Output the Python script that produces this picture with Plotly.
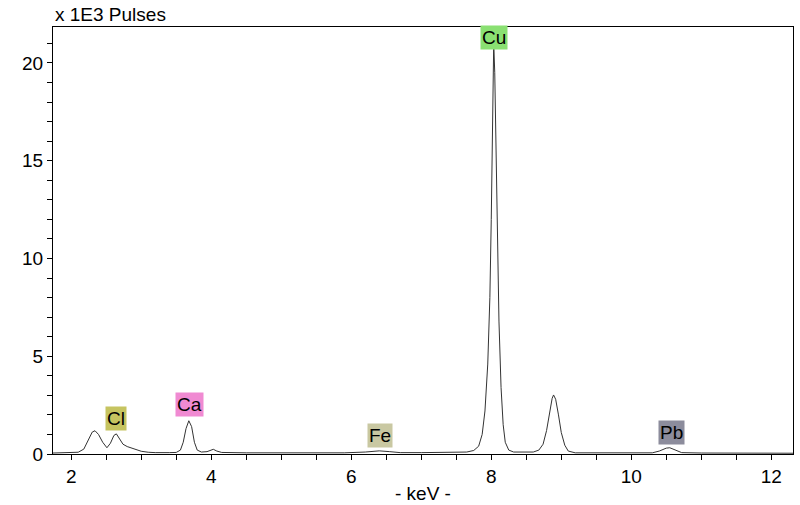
import plotly.graph_objects as go

# spectrum (keV, x1E3 pulses)
energy = [1.74, 1.90, 2.00, 2.10, 2.18, 2.24, 2.30, 2.34, 2.39, 2.45, 2.51, 2.56, 2.61, 2.645,
          2.69, 2.74, 2.80, 2.86, 2.93, 3.00, 3.10, 3.20, 3.40, 3.50, 3.56, 3.60, 3.64, 3.68,
          3.72, 3.76, 3.80, 3.86, 3.94, 4.00, 4.03, 4.08, 4.15, 4.50, 5.00, 5.50, 5.90, 6.20,
          6.40, 6.55, 6.70, 7.00, 7.40, 7.65, 7.75, 7.82, 7.87, 7.91, 7.95, 7.98, 8.00, 8.02,
          8.035, 8.05, 8.07, 8.09, 8.11, 8.14, 8.17, 8.20, 8.25, 8.32, 8.45, 8.60, 8.68, 8.74,
          8.79, 8.83, 8.87, 8.89, 8.92, 8.96, 9.00, 9.05, 9.10, 9.20, 9.60, 10.00, 10.30, 10.40,
          10.50, 10.55, 10.62, 10.72, 11.00, 11.50, 12.00, 12.31]
pulses = [0.05, 0.06, 0.07, 0.09, 0.25, 0.7, 1.12, 1.19, 1.0, 0.6, 0.32, 0.55, 0.95, 1.03,
          0.8, 0.5, 0.38, 0.3, 0.2, 0.14, 0.09, 0.07, 0.07, 0.08, 0.2, 0.6, 1.3, 1.70,
          1.4, 0.6, 0.2, 0.1, 0.12, 0.22, 0.24, 0.15, 0.08, 0.06, 0.06, 0.07, 0.06, 0.1,
          0.16, 0.12, 0.07, 0.07, 0.08, 0.1, 0.18, 0.4, 1.0, 2.2, 4.6, 8.0, 12.0, 17.5,
          21.0, 19.5, 15.0, 10.5, 6.8, 3.4, 1.5, 0.6, 0.2, 0.1, 0.09, 0.1, 0.2, 0.5,
          1.2, 2.1, 2.85, 3.02, 2.8, 2.0, 1.1, 0.45, 0.15, 0.06, 0.05, 0.05, 0.06, 0.15,
          0.3, 0.32, 0.22, 0.07, 0.05, 0.05, 0.04, 0.04]

# element labels
elements = ["Cl", "Ca", "Fe", "Cu", "Pb"]
label_x = [2.643, 3.686, 6.414, 8.04, 10.57]
label_y = [1.84, 2.51, 0.97, 21.28, 1.125]
label_colors = ["#c6c460", "#f08ad2", "#c9c8a2", "#8ae072", "#8c8c9c"]

fig = go.Figure()
fig.add_trace(go.Scatter(x=energy, y=pulses, mode="lines",
                         line=dict(color="#333333", width=1), showlegend=False))

for name, x, y, c in zip(elements, label_x, label_y, label_colors):
    fig.add_annotation(x=x, y=y, text=name, showarrow=False, bgcolor=c,
                       borderpad=1, font=dict(size=19, color="black"))

fig.add_annotation(xref="paper", yref="paper", x=0, y=1, xanchor="left", yanchor="bottom",
                   yshift=0, text="x 1E3 Pulses", showarrow=False,
                   font=dict(size=19, color="black"))
fig.add_annotation(xref="paper", yref="paper", x=0.5, y=0, xanchor="center",
                   yanchor="middle", yshift=-39, text="- keV -", showarrow=False,
                   font=dict(size=19, color="black"))

fig.update_layout(
    width=800, height=505,
    margin=dict(l=53, r=7, t=27, b=51),
    paper_bgcolor="white",
    plot_bgcolor="white",
    font=dict(family="Liberation Sans, Arial, sans-serif", size=19, color="black"),
    xaxis=dict(range=[1.74, 12.31], showgrid=False, zeroline=False, automargin=False,
               tickvals=[2, 4, 6, 8, 10, 12], ticks="outside", ticklen=5,
               tickcolor="black", showline=True, linecolor="black", mirror=True,
               tickfont=dict(size=19),
               minor=dict(dtick=0.5, ticks="outside", ticklen=5, tickcolor="black")),
    yaxis=dict(range=[0, 21.84], showgrid=False, zeroline=False, automargin=False,
               tickvals=[0, 5, 10, 15, 20], ticks="outside", ticklen=5,
               tickcolor="black", showline=True, linecolor="black", mirror=True,
               tickfont=dict(size=19),
               minor=dict(dtick=1, ticks="outside", ticklen=5, tickcolor="black")),
)

# drop the page's default body margin so the figure sits at the window's corner
fig.write_html("out.html", config={"displayModeBar": False},
               post_script="document.body.style.margin='0';")
